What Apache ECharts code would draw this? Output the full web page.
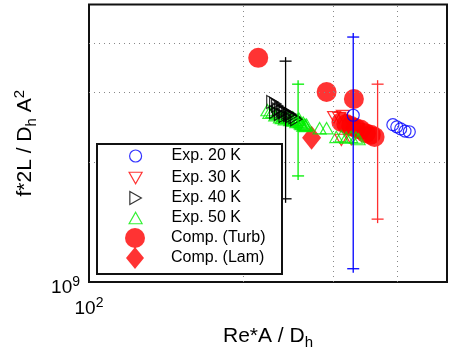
<!DOCTYPE html>
<html>
<head>
<meta charset="utf-8">
<script src="https://cdn.jsdelivr.net/npm/echarts@6/dist/echarts.min.js"></script>
<style>
html, body { margin: 0; padding: 0; background: #fff; }
#chart { width: 450px; height: 359px; }
</style>
</head>
<body>
<div id="chart"></div>
<script>
// log-log plot, Re*A/Dh vs f*2L/Dh*A^2
const xRange = [100, 500];
const yRange = [1e9, 5e9];
const xGridLines = [200, 300, 400];
const yGridLines = [2e9, 3e9, 4e9];

const exp20 = [[328, 2.63e9], [392, 2.49e9], [399, 2.46e9], [406, 2.43e9], [414, 2.40e9], [422, 2.39e9]];
const exp30 = [[301, 2.60e9], [308, 2.59e9], [313, 2.62e9], [325, 2.49e9], [335, 2.43e9], [347, 2.37e9],
  [311, 2.28e9], [325, 2.29e9]];
const exp40 = [[228, 2.84e9], [231, 2.81e9], [233, 2.78e9], [236, 2.74e9], [238, 2.71e9], [241, 2.68e9],
  [244, 2.67e9], [247, 2.65e9], [249, 2.62e9], [252, 2.60e9], [254, 2.57e9], [231, 2.68e9],
  [236, 2.65e9], [241, 2.62e9], [234, 2.72e9], [239, 2.69e9], [246, 2.63e9]];
const exp50 = [[223, 2.71e9], [225, 2.67e9], [228, 2.68e9], [231, 2.63e9], [233, 2.65e9], [236, 2.60e9],
  [238, 2.59e9], [241, 2.57e9], [244, 2.59e9], [247, 2.56e9], [249, 2.57e9], [252, 2.56e9],
  [254, 2.53e9], [258, 2.53e9], [260, 2.50e9], [264, 2.49e9], [266, 2.49e9], [282, 2.44e9],
  [291, 2.44e9], [304, 2.32e9], [311, 2.33e9], [318, 2.31e9], [325, 2.32e9], [332, 2.31e9],
  [336, 2.29e9], [240, 2.62e9], [245, 2.60e9], [250, 2.55e9], [255, 2.56e9], [259, 2.51e9],
  [262, 2.52e9], [265, 2.47e9], [250, 2.60e9], [256, 2.55e9], [262, 2.48e9], [257, 2.58e9]];
const compTurb = [[214, 3.67e9], [291, 3.01e9], [329, 2.89e9], [311, 2.53e9], [318, 2.50e9],
  [325, 2.47e9], [332, 2.44e9], [339, 2.42e9], [347, 2.37e9], [355, 2.35e9], [361, 2.32e9]];
const compLam = [[272, 2.31e9]];

// error bars: [x, low, high]
const err20 = [328, 1.08e9, 4.14e9];
const err30 = [366, 1.44e9, 3.15e9];
const err40 = [242, 1.62e9, 3.60e9];
const err50 = [256, 1.85e9, 3.15e9];

const FONT = 'Liberation Sans, Arial, Helvetica, sans-serif';
const TRI_DOWN = 'path://M0,0L2,0L1,1.732Z';
const TRI_RIGHT = 'path://M0,0L1.732,1L0,2Z';
const TRI_UP = 'path://M1,0L2,1.732L0,1.732Z';

const chart = echarts.init(document.getElementById('chart'), null, {renderer: 'canvas'});

function errorBar(color, bar) {
	return {
		type: 'custom',
		z: 6,
		silent: true,
		data: [bar],
		encode: {x: 0, y: [1, 2]},
		renderItem: (params, api) => {
			const x = api.value(0);
			const lo = api.coord([x, api.value(1)]);
			const hi = api.coord([x, api.value(2)]);
			const cap = 6;
			const style = {stroke: color, lineWidth: 1.3};
			return {
				type: 'group',
				children: [
					{type: 'line', shape: {x1: lo[0], y1: lo[1] + 4, x2: hi[0], y2: hi[1] - 4}, style},
					{type: 'line', shape: {x1: lo[0] - cap, y1: lo[1], x2: lo[0] + cap, y2: lo[1]}, style},
					{type: 'line', shape: {x1: hi[0] - cap, y1: hi[1], x2: hi[0] + cap, y2: hi[1]}, style},
				]
			};
		}
	};
}

const openStyle = color => ({color: 'rgba(0,0,0,0)', borderColor: color, borderWidth: 1.2});

// legend rows: name, icon, icon width, icon height, row centre
const legendRows = [
	['Exp. 20 K', 'circle', 12, 12, 156],
	['Exp. 30 K', TRI_DOWN, 13, 11.5, 178],
	['Exp. 40 K', TRI_RIGHT, 11.5, 13, 198],
	['Exp. 50 K', TRI_UP, 13, 11.5, 218],
	['Comp. (Turb)', 'circle', 20, 20, 238],
	['Comp. (Lam)', 'diamond', 18, 22, 258],
];

const option = {
	animation: false,
	grid: {
		left: 89, top: 4.5, right: -2.4, bottom: 77,
		show: true, borderColor: '#111', borderWidth: 2, backgroundColor: '#fff'
	},
	xAxis: {
		type: 'log', min: xRange[0], max: xRange[1],
		axisLine: {show: false}, axisTick: {show: false}, splitLine: {show: false},
		axisLabel: {
			margin: 14,
			formatter: v => (Math.abs(v - 100) < 1 ? '{n|10}{p|2}' : ''),
			rich: {
				n: {fontSize: 19, fontFamily: FONT, color: '#000'},
				p: {fontSize: 14, fontFamily: FONT, color: '#000', padding: [0, 0, 12, 0]}
			}
		},
		name: '{n|Re*A / D}{s|h}',
		nameLocation: 'middle', nameGap: 41,
		nameTextStyle: {
			rich: {
				n: {fontSize: 21, fontFamily: FONT, color: '#000'},
				s: {fontSize: 15, fontFamily: FONT, color: '#000', padding: [12, 0, 0, 0]}
			}
		}
	},
	yAxis: {
		type: 'log', min: yRange[0], max: yRange[1],
		axisLine: {show: false}, axisTick: {show: false}, splitLine: {show: false},
		axisLabel: {
			margin: 9,
			padding: [12, 0, 0, 0],
			formatter: v => (Math.abs(v - 1e9) < 1e6 ? '{n|10}{p|9}' : ''),
			rich: {
				n: {fontSize: 19, fontFamily: FONT, color: '#000'},
				p: {fontSize: 14, fontFamily: FONT, color: '#000', padding: [0, 0, 12, 0]}
			}
		},
		name: '{n|f*2L / D}{s|h}{n| A}{p|2}',
		nameLocation: 'middle', nameGap: 50, nameRotate: 90,
		nameTextStyle: {
			rich: {
				n: {fontSize: 21, fontFamily: FONT, color: '#000'},
				s: {fontSize: 15, fontFamily: FONT, color: '#000', padding: [12, 0, 0, 0]},
				p: {fontSize: 15, fontFamily: FONT, color: '#000', padding: [0, 0, 12, 0]}
			}
		}
	},
	legend: legendRows.map(([name, icon, w, h, cy]) => ({
		data: [{name, icon}],
		left: 135 - w / 2, top: cy - Math.max(h, 16) / 2,
		padding: 0, itemGap: 0, z: 20,
		itemWidth: w, itemHeight: h,
		symbolKeepAspect: false,
		selectedMode: false,
		itemStyle: {borderWidth: 1.2},
		textStyle: {fontSize: 16, fontFamily: FONT, color: '#000', padding: [0, 0, 0, 31 - w / 2]}
	})),
	graphic: {
		elements: [{
			type: 'rect', z: 10,
			shape: {x: 97, y: 144, width: 185, height: 130},
			style: {fill: '#fff', stroke: '#111', lineWidth: 2}
		}]
	},
	series: [
		{
			type: 'scatter', data: [], z: 1, silent: true,
			markLine: {
				silent: true, symbol: 'none', label: {show: false},
				lineStyle: {color: '#888', type: [1, 4], width: 1},
				data: xGridLines.map(v => ({xAxis: v})).concat(yGridLines.map(v => ({yAxis: v})))
			}
		},
		{
			type: 'scatter', name: 'Exp. 30 K', data: exp30, z: 2,
			symbol: TRI_DOWN, symbolKeepAspect: true, symbolSize: 13, itemStyle: openStyle('#ff0000')
		},
		{
			type: 'scatter', name: 'Comp. (Turb)', data: compTurb, z: 2,
			symbol: 'circle', symbolSize: 20, itemStyle: {color: '#ff0000'}
		},
		{
			type: 'scatter', name: 'Comp. (Lam)', data: compLam, z: 2,
			symbol: 'diamond', symbolSize: [19, 24], itemStyle: {color: '#ff0000'}
		},
		{
			type: 'scatter', name: 'Exp. 50 K', data: exp50, z: 3,
			symbol: TRI_UP, symbolKeepAspect: true, symbolSize: 13, itemStyle: openStyle('#00ee00')
		},
		{
			type: 'scatter', name: 'Exp. 40 K', data: exp40, z: 4,
			symbol: TRI_RIGHT, symbolKeepAspect: true, symbolSize: 13, itemStyle: openStyle('#000000')
		},
		{
			type: 'scatter', name: 'Exp. 20 K', data: exp20, z: 4,
			symbol: 'circle', symbolSize: 12, itemStyle: openStyle('#0000ff')
		},
		errorBar('#0000ff', err20),
		errorBar('#ff3030', err30),
		errorBar('#000000', err40),
		errorBar('#00ee00', err50),
	]
};

chart.setOption(option);
</script>
</body>
</html>
